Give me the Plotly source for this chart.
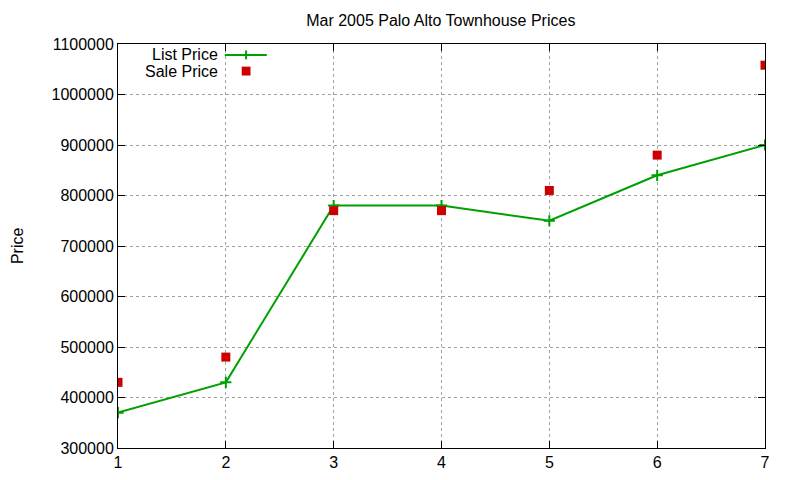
import plotly.graph_objects as go

# Data
months = [1, 2, 3, 4, 5, 6, 7]
list_price = [370000, 430000, 780000, 780000, 750000, 840000, 900000]
sale_price = [430000, 480000, 770000, 770000, 810000, 880000, 1058000]

GREEN = "#00a000"
RED = "#cc0000"
FONT = "Liberation Sans, Arial, sans-serif"

fig = go.Figure()

fig.add_trace(go.Scatter(
    name="List Price",
    x=months, y=list_price,
    mode="lines+markers",
    line=dict(color=GREEN, width=2),
    marker=dict(symbol="cross-thin", size=8, line=dict(color=GREEN, width=2)),
    showlegend=False,
))

fig.add_trace(go.Scatter(
    name="Sale Price",
    x=months, y=sale_price,
    mode="markers",
    marker=dict(symbol="square", size=9, color=RED),
    showlegend=False,
))

axis_style = dict(
    showline=True, linecolor="black", linewidth=1, mirror="ticks",
    ticks="inside", ticklen=7, tickcolor="black",
    showgrid=True, gridcolor="#a0a0a0", griddash="dot", gridwidth=1,
    zeroline=False, automargin=False,
    tickfont=dict(family=FONT, size=16, color="black"),
)

fig.update_xaxes(range=[1, 7], dtick=1, **axis_style)
fig.update_yaxes(range=[300000, 1100000], dtick=100000, tickformat="d",
                 **axis_style)

# y axis title placed by hand, gnuplot puts it near the edge
fig.add_annotation(x=-0.156, y=0.5, xref="paper", yref="paper",
                   text="Price", textangle=-90, showarrow=False,
                   xanchor="center", yanchor="middle",
                   font=dict(family=FONT, size=16, color="black"))

# gnuplot-like key: text to the left of the sample
key_x_text = 0.158
key_x0, key_x1, key_xm = 0.165, 0.230, 0.198
key_y = [0.973, 0.933]
for label, yy in zip(["List Price", "Sale Price"], key_y):
    fig.add_annotation(x=key_x_text, y=yy, xref="paper", yref="paper",
                       text=label, showarrow=False,
                       xanchor="right", yanchor="middle",
                       font=dict(family=FONT, size=16, color="black"))

fig.add_shape(type="line", xref="paper", yref="paper",
              x0=key_x0, x1=key_x1, y0=key_y[0], y1=key_y[0],
              line=dict(color=GREEN, width=2))
fig.add_shape(type="line", xref="paper", yref="paper",
              x0=key_xm, x1=key_xm, y0=key_y[0] - 0.011, y1=key_y[0] + 0.011,
              line=dict(color=GREEN, width=2))
fig.add_shape(type="rect", xref="paper", yref="paper",
              x0=key_xm - 0.0068, x1=key_xm + 0.0068,
              y0=key_y[1] - 0.011, y1=key_y[1] + 0.011,
              line=dict(width=0), fillcolor=RED)

fig.update_layout(
    width=800, height=480,
    margin=dict(l=110, r=43, t=36, b=40),
    paper_bgcolor="white", plot_bgcolor="white",
    title=dict(text="Mar 2005 Palo Alto Townhouse Prices", x=0.541, xanchor="center",
               y=0.975, yanchor="middle",
               font=dict(family=FONT, size=16, color="black")),
    font=dict(family=FONT, size=16, color="black"),
)

fig.write_html("out.html")
